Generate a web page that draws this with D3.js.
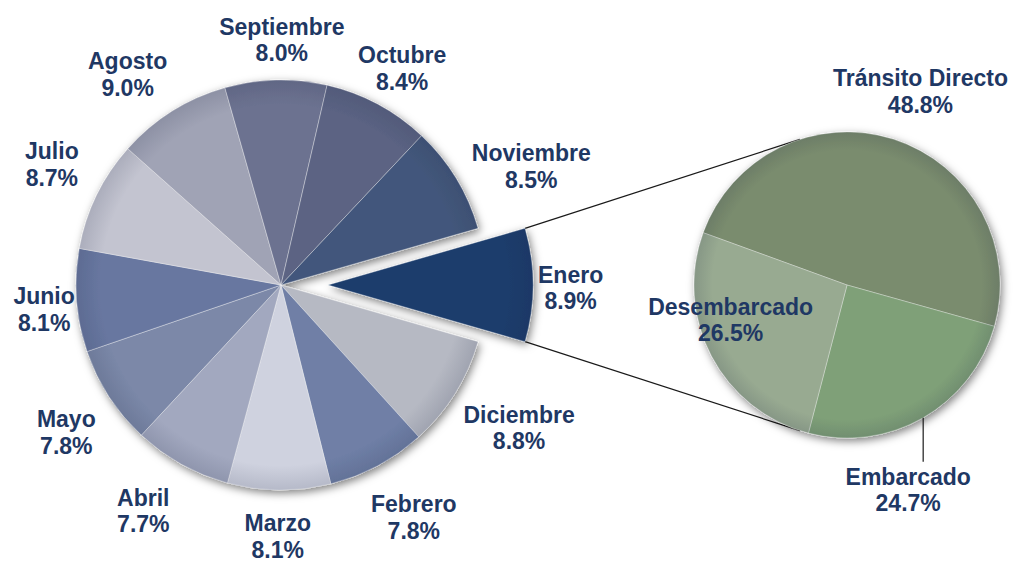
<!DOCTYPE html>
<html>
<head>
<meta charset="utf-8">
<script src="https://cdn.jsdelivr.net/npm/d3@7"></script>
<style>
  body { margin: 0; background: #fff; }
  text { font-family: Arial, "Liberation Sans", sans-serif; font-weight: bold; font-size: 23px; fill: #1f3864; }
</style>
</head>
<body>
<svg id="chart" width="1015" height="563"></svg>
<script>
// months, clockwise starting with the split-out slice (Enero)
const months = ["Enero", "Diciembre", "Febrero", "Marzo", "Abril", "Mayo", "Junio", "Julio", "Agosto", "Septiembre", "Octubre", "Noviembre"];
const monthShare = [8.9, 8.8, 7.8, 8.1, 7.7, 7.8, 8.1, 8.7, 9.0, 8.0, 8.4, 8.5];
const monthColors = ["#1b3c6c", "#b6b9c3", "#6f7fa6", "#cfd2df", "#a2a8bf", "#7b88a8", "#6877a0", "#c3c4d0", "#a0a3b5", "#6c7290", "#5b6383", "#43577b"];

// breakdown of Enero
const splitTypes = ["Tránsito Directo", "Embarcado", "Desembarcado"];
const splitShare = [48.8, 24.7, 26.5];
const splitColors = ["#7a8c6e", "#7fa078", "#98aa91"];

// hand-dragged label offsets (px), like in the original workbook
const labelNudge = {
    "Septiembre": [7, 0], "Octubre": [-2, 14], "Noviembre": [10, 28], "Agosto": [-15, 10],
    "Julio": [-2, -10], "Junio": [12, 6], "Mayo": [0, 8], "Abril": [-15, 5],
    "Marzo": [-1, 8], "Febrero": [10, 3], "Diciembre": [2, -4], "Enero": [-7, 3],
    "Tránsito Directo": [7, 13], "Desembarcado": [-8, -22]
};

const svg = d3.select("#chart");
const defs = svg.append("defs");
const fmt = v => d3.format(".1f")(v) + "%";
const lineGap = 26.7;

const shadow = defs.append("filter").attr("id", "shadow")
    .attr("x", "-20%").attr("y", "-20%").attr("width", "140%").attr("height", "140%");
shadow.append("feDropShadow")
    .attr("dx", 2).attr("dy", 3).attr("stdDeviation", 4)
    .attr("flood-color", "#000").attr("flood-opacity", 0.5);

function rimGradient(id, r) {
    const g = defs.append("radialGradient").attr("id", id)
        .attr("gradientUnits", "userSpaceOnUse")
        .attr("cx", 0).attr("cy", 0).attr("r", r);
    g.append("stop").attr("offset", 0.88).attr("stop-color", "#1a2340").attr("stop-opacity", 0);
    g.append("stop").attr("offset", 1).attr("stop-color", "#1a2340").attr("stop-opacity", 0.14);
}

const main = { cx: 281, cy: 285, r: 205, explode: 47 },
    sub = { cx: 847, cy: 285, r: 153 };
rimGradient("rimMain", main.r);
rimGradient("rimSub", sub.r);

const monthData = months.map((m, i) => ({ name: m, v: monthShare[i], color: monthColors[i] }));
const splitData = splitTypes.map((m, i) => ({ name: m, v: splitShare[i], color: splitColors[i] }));

const mainTotal = d3.sum(monthShare);
const mainStart = Math.PI / 2 - Math.PI * monthShare[0] / mainTotal;
const mainArcs = d3.pie().sort(null).value(d => d.v)
    .startAngle(mainStart).endAngle(mainStart + 2 * Math.PI)(monthData);

const subStart = 290 * Math.PI / 180;
const subArcs = d3.pie().sort(null).value(d => d.v)
    .startAngle(subStart).endAngle(subStart + 2 * Math.PI)(splitData);

const mainArc = d3.arc().innerRadius(0).outerRadius(main.r);
const subArc = d3.arc().innerRadius(0).outerRadius(sub.r);

const polar = (cx, cy, r, a) => [cx + r * Math.sin(a), cy - r * Math.cos(a)];

// exploded centre of Enero
const enero = mainArcs[0];
const eneroMid = (enero.startAngle + enero.endAngle) / 2;
const [ex, ey] = polar(main.cx, main.cy, main.explode, eneroMid);

// connector lines: Enero outer corners, tangent to the secondary pie
function tangent(p, upper) {
    const dx = p[0] - sub.cx, dy = p[1] - sub.cy;
    const d = Math.hypot(dx, dy);
    const theta = Math.atan2(dy, dx), alpha = Math.acos(sub.r / d);
    const t = upper ? theta + alpha : theta - alpha;
    return [sub.cx + sub.r * Math.cos(t), sub.cy + sub.r * Math.sin(t)];
}
const cTop = polar(ex, ey, main.r, enero.startAngle),
    cBot = polar(ex, ey, main.r, enero.endAngle);
svg.append("g").selectAll("line")
    .data([[cTop, tangent(cTop, true)], [cBot, tangent(cBot, false)]])
    .enter().append("line")
    .attr("x1", d => d[0][0]).attr("y1", d => d[0][1])
    .attr("x2", d => d[1][0]).attr("y2", d => d[1][1])
    .attr("stroke", "#1a1a1a").attr("stroke-width", 1.2);

// main pie
const mainG = svg.append("g").attr("filter", "url(#shadow)");
const slices = mainG.selectAll("g.slice")
    .data(mainArcs)
    .enter().append("g")
    .attr("class", "slice")
    .attr("transform", (d, i) => i === 0 ? `translate(${ex},${ey})` : `translate(${main.cx},${main.cy})`);
slices.append("path")
    .attr("d", mainArc)
    .attr("fill", d => d.data.color)
    .attr("stroke", "rgba(255,255,255,0.45)")
    .attr("stroke-width", 0.8);
slices.append("path")
    .attr("d", mainArc)
    .attr("fill", "url(#rimMain)");

// secondary pie
const subG = svg.append("g").attr("filter", "url(#shadow)")
    .attr("transform", `translate(${sub.cx},${sub.cy})`);
subG.selectAll("path.s")
    .data(subArcs)
    .enter().append("path")
    .attr("class", "s")
    .attr("d", subArc)
    .attr("fill", d => d.data.color)
    .attr("stroke", "rgba(255,255,255,0.4)")
    .attr("stroke-width", 0.8);
subG.append("circle").attr("r", sub.r).attr("fill", "url(#rimSub)");

// labels
const labelG = svg.append("g");
function makeLabel(name, v) {
    const t = labelG.append("text").attr("text-anchor", "middle");
    t.append("tspan").attr("x", 0).attr("y", 0).text(name);
    t.append("tspan").attr("x", 0).attr("y", lineGap).text(fmt(v));
    return t;
}
function centerAt(t, name, x, y) {
    const b = t.node().getBBox();
    const n = labelNudge[name] || [0, 0];
    t.attr("transform", `translate(${x + n[0] - (b.x + b.width / 2)},${y + n[1] - (b.y + b.height / 2)})`);
}
function outside(t, name, cx, cy, r, a) {
    const b = t.node().getBBox();
    const R = r + 12 + b.width / 2 * Math.abs(Math.sin(a)) + b.height / 2 * Math.abs(Math.cos(a));
    const [x, y] = polar(cx, cy, R, a);
    centerAt(t, name, x, y);
}

mainArcs.forEach((d, i) => {
    const a = (d.startAngle + d.endAngle) / 2;
    const t = makeLabel(d.data.name, d.data.v);
    if (i === 0) outside(t, d.data.name, ex, ey, main.r, a);
    else outside(t, d.data.name, main.cx, main.cy, main.r, a);
});

subArcs.forEach(d => {
    const a = (d.startAngle + d.endAngle) / 2;
    const t = makeLabel(d.data.name, d.data.v);
    if (d.data.name === "Desembarcado") {
        const [x, y] = polar(sub.cx, sub.cy, sub.r * 0.8, a);
        centerAt(t, d.data.name, x, y);
    } else if (d.data.name === "Embarcado") {
        // label dragged below the pie, joined by a vertical leader
        const [x0, y0] = polar(sub.cx, sub.cy, sub.r, a);
        const y1 = y0 + 44;
        labelG.append("line")
            .attr("x1", x0).attr("y1", y0).attr("x2", x0).attr("y2", y1)
            .attr("stroke", "#1a1a1a").attr("stroke-width", 1.2);
        const b = t.node().getBBox();
        t.attr("transform", `translate(${x0 - 15 - (b.x + b.width / 2)},${y1 + 2 - b.y})`);
    } else {
        outside(t, d.data.name, sub.cx, sub.cy, sub.r, a);
    }
});
</script>
</body>
</html>
